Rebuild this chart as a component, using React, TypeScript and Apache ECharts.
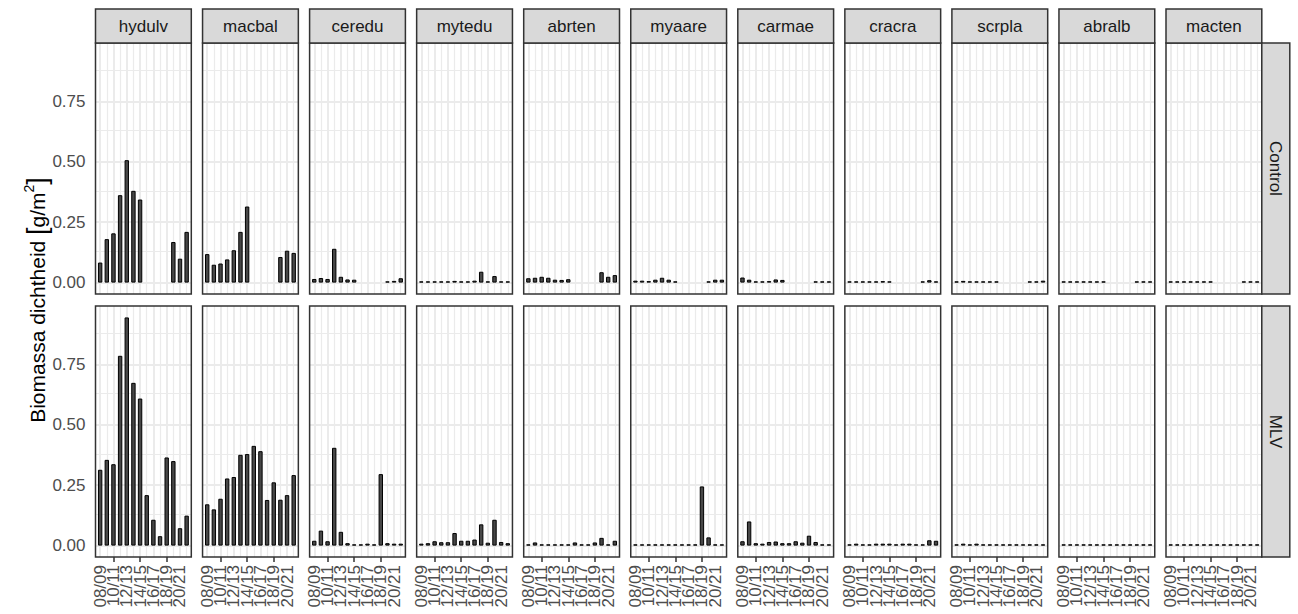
import React, { useEffect, useRef } from "react";
import * as echarts from "echarts";

// ---------- data ----------
const seasons = ["08/09", "09/10", "10/11", "11/12", "12/13", "13/14", "14/15", "15/16", "16/17", "17/18", "18/19", "19/20", "20/21", "21/22"];
const species = ["hydulv", "macbal", "ceredu", "mytedu", "abrten", "myaare", "carmae", "cracra", "scrpla", "abralb", "macten"];
const treatments = ["Control", "MLV"];

const N = null;
// Control
const controlHydulv = [0.083, 0.18, 0.204, 0.362, 0.507, 0.38, 0.344, N, N, N, N, 0.168, 0.099, 0.21];
const controlMacbal = [0.118, 0.074, 0.079, 0.096, 0.134, 0.21, 0.315, N, N, N, N, 0.106, 0.132, 0.123];
const controlCeredu = [0.015, 0.019, 0.015, 0.14, 0.024, 0.013, 0.012, N, N, N, N, 0.005, 0.007, 0.018];
const controlMytedu = [0.004, 0.004, 0.004, 0.004, 0.004, 0.007, 0.004, 0.004, 0.008, 0.045, 0.005, 0.027, 0.004, 0.004];
const controlAbrten = [0.018, 0.02, 0.024, 0.02, 0.012, 0.011, 0.014, N, N, N, N, 0.043, 0.024, 0.031];
const controlMyaare = [0.008, 0.008, 0.006, 0.012, 0.02, 0.012, 0.004, N, N, N, N, 0.004, 0.012, 0.012];
const controlCarmae = [0.021, 0.012, 0.004, 0.004, 0.006, 0.013, 0.011, N, N, N, N, 0.004, 0.004, 0.004];
const controlCracra = [0.004, 0.004, 0.004, 0.004, 0.004, 0.006, 0.004, N, N, N, N, 0.004, 0.01, 0.004];
const controlScrpla = [0.003, 0.007, 0.003, 0.003, 0.003, 0.003, 0.003, N, N, N, N, 0.003, 0.003, 0.008];
const controlAbralb = [0.002, 0.002, 0.002, 0.002, 0.002, 0.002, 0.004, N, N, N, N, 0.002, 0.002, 0.002];
const controlMacten = [0.002, 0.002, 0.002, 0.002, 0.002, 0.002, 0.002, N, N, N, N, 0.002, 0.002, 0.002];
// MLV
const mlvHydulv = [0.314, 0.355, 0.337, 0.786, 0.945, 0.674, 0.609, 0.209, 0.107, 0.039, 0.365, 0.35, 0.072, 0.124];
const mlvMacbal = [0.171, 0.15, 0.194, 0.278, 0.284, 0.376, 0.379, 0.413, 0.391, 0.189, 0.262, 0.19, 0.209, 0.292];
const mlvCeredu = [0.02, 0.062, 0.018, 0.405, 0.057, 0.01, 0.004, 0.004, 0.008, 0.004, 0.296, 0.01, 0.008, 0.008];
const mlvMytedu = [0.008, 0.01, 0.018, 0.014, 0.014, 0.052, 0.02, 0.02, 0.025, 0.088, 0.012, 0.107, 0.015, 0.01];
const mlvAbrten = [0.004, 0.013, 0.003, 0.003, 0.004, 0.004, 0.004, 0.013, 0.004, 0.003, 0.013, 0.032, 0.004, 0.02];
const mlvMyaare = [0.002, 0.002, 0.002, 0.002, 0.002, 0.002, 0.002, 0.002, 0.002, 0.001, 0.245, 0.034, 0.002, 0.002];
const mlvCarmae = [0.018, 0.1, 0.01, 0.008, 0.015, 0.017, 0.01, 0.01, 0.018, 0.012, 0.041, 0.015, 0.004, 0.004];
const mlvCracra = [0.004, 0.008, 0.004, 0.004, 0.008, 0.008, 0.008, 0.005, 0.008, 0.008, 0.005, 0.004, 0.022, 0.02];
const mlvScrpla = [0.003, 0.008, 0.001, 0.008, 0.004, 0.003, 0.002, 0.003, 0.003, 0.004, 0.003, 0.001, 0.003, 0.003];
const mlvAbralb = [0.002, 0.002, 0.002, 0.002, 0.002, 0.002, 0.004, 0.004, 0.002, 0.002, 0.002, 0.001, 0.002, 0.002];
const mlvMacten = [0.002, 0.004, 0.002, 0.001, 0.002, 0.002, 0.002, 0.002, 0.002, 0.002, 0.002, 0.002, 0.002, 0.002];

const controlValues = [controlHydulv, controlMacbal, controlCeredu, controlMytedu, controlAbrten, controlMyaare, controlCarmae, controlCracra, controlScrpla, controlAbralb, controlMacten];
const mlvValues = [mlvHydulv, mlvMacbal, mlvCeredu, mlvMytedu, mlvAbrten, mlvMyaare, mlvCarmae, mlvCracra, mlvScrpla, mlvAbralb, mlvMacten];

// labelled x breaks, split in two interleaved sets so adjacent labels never collide in layout
const xTickIndexA = [0, 4, 8, 12];
const xTickIndexB = [2, 6, 10];
const xMinorIndex = [1, 3, 5, 7, 9, 11, 13];
const yTicks = [0, 0.25, 0.5, 0.75];
const yMinorTicks = [0.125, 0.375, 0.625, 0.875];

// ---------- layout / style ----------
const FONT = "'Liberation Sans', Arial, Helvetica, sans-serif";
const PANEL_LEFT = 95.5;
const PANEL_PITCH = 107.05;
const PANEL_W = 95.8;
const ROW_TOP = [43, 306];
const PANEL_H = 251;
const STRIP_TOP = 9;
const STRIP_H = 34;
const RSTRIP_W = 28;
const GRID_COLOR = "#EBEBEB";
const DARK = "#333333";

function buildOption() {
  const all = [...controlValues, ...mlvValues].flat().filter((v) => v != null) as number[];
  const maxVal = Math.max(...all);
  const expand = maxVal * 0.05;
  const yMin = -expand;
  const yMax = maxVal + expand;
  const xMin = -0.7;
  const xMax = seasons.length - 1 + 0.7;

  const grids: any[] = [];
  const xAxes: any[] = [];
  const yAxes: any[] = [];
  const series: any[] = [];
  const graphics: any[] = [];

  const makeXAxis = (gridIndex: number, show: boolean, ticks: number[]) => ({
    type: "value",
    gridIndex,
    position: "bottom",
    min: xMin,
    max: xMax,
    axisLine: { show: false },
    splitLine: { show: false },
    minorSplitLine: { show: false },
    axisTick: {
      show,
      customValues: ticks,
      length: 5,
      lineStyle: { color: DARK, width: 1.5 },
    },
    axisLabel: {
      show,
      customValues: ticks,
      formatter: (v: number) => seasons[Math.round(v)] ?? "",
      rotate: 90,
      margin: 8,
      fontSize: 17,
      color: "#4D4D4D",
      fontFamily: FONT,
      hideOverlap: false,
      showMinLabel: true,
      showMaxLabel: true,
    },
  });

  treatments.forEach((t, r) => {
    const rows = r === 0 ? controlValues : mlvValues;
    species.forEach((sp, c) => {
      const i = r * species.length + c;
      const left = PANEL_LEFT + c * PANEL_PITCH;
      const top = ROW_TOP[r];
      const isBottom = r === treatments.length - 1;
      const isLeft = c === 0;
      grids.push({
        left,
        top,
        width: PANEL_W,
        height: PANEL_H,
        show: true,
        backgroundColor: "#ffffff",
        borderWidth: 0,
        outerBoundsMode: "none",
        containLabel: false,
      });
      const xi = xAxes.length;
      xAxes.push(makeXAxis(i, isBottom, xTickIndexA));
      if (isBottom) xAxes.push(makeXAxis(i, true, xTickIndexB));
      yAxes.push({
        type: "value",
        gridIndex: i,
        min: yMin,
        max: yMax,
        axisLine: { show: false },
        splitLine: { show: false },
        minorSplitLine: { show: false },
        axisTick: {
          show: isLeft,
          customValues: yTicks,
          length: 5,
          lineStyle: { color: DARK, width: 1.5 },
        },
        axisLabel: {
          show: isLeft,
          customValues: yTicks,
          formatter: (v: number) => v.toFixed(2),
          margin: 10,
          fontSize: 17,
          color: "#4D4D4D",
          fontFamily: FONT,
          hideOverlap: false,
          showMinLabel: true,
          showMaxLabel: true,
        },
      });
      const vals = rows[c];
      const data: any[] = [];
      vals.forEach((v, k) => {
        if (v != null) data.push([k, v]);
      });
      const gridLines: any[] = [];
      [...xTickIndexA, ...xTickIndexB].forEach((k) => gridLines.push({ xAxis: k, lineStyle: { color: GRID_COLOR, width: 2, type: "solid" } }));
      xMinorIndex.forEach((k) => gridLines.push({ xAxis: k, lineStyle: { color: GRID_COLOR, width: 1.2, type: "solid" } }));
      yTicks.forEach((v) => gridLines.push({ yAxis: v, lineStyle: { color: GRID_COLOR, width: 2, type: "solid" } }));
      yMinorTicks.forEach((v) => gridLines.push({ yAxis: v, lineStyle: { color: GRID_COLOR, width: 1.2, type: "solid" } }));
      series.push({
        type: "bar",
        name: `${t}-${sp}`,
        xAxisIndex: xi,
        yAxisIndex: i,
        data,
        barWidth: 4.4,
        barMinHeight: 1.2,
        z: 3,
        itemStyle: { color: "#474747", borderColor: "#000000", borderWidth: 1 },
        emphasis: { disabled: true },
        markLine: {
          silent: true,
          symbol: "none",
          z: 1,
          animation: false,
          label: { show: false },
          emphasis: { disabled: true },
          data: gridLines,
        },
      });
      // panel border
      graphics.push({
        type: "rect",
        z: 50,
        silent: true,
        shape: { x: left, y: top, width: PANEL_W, height: PANEL_H },
        style: { fill: "none", stroke: DARK, lineWidth: 1.5 },
      });
      // top strips
      if (r === 0) {
        graphics.push({
          type: "rect",
          z: 51,
          silent: true,
          shape: { x: left, y: STRIP_TOP, width: PANEL_W, height: STRIP_H },
          style: { fill: "#D9D9D9", stroke: DARK, lineWidth: 1.5 },
        });
        graphics.push({
          type: "text",
          z: 52,
          silent: true,
          x: left + PANEL_W / 2,
          y: STRIP_TOP + STRIP_H / 2,
          style: {
            text: sp,
            fill: "#1A1A1A",
            fontSize: 17,
            fontFamily: FONT,
            align: "center",
            verticalAlign: "middle",
            textAlign: "center",
            textVerticalAlign: "middle",
          },
        });
      }
    });
    // right strips
    const rx = PANEL_LEFT + (species.length - 1) * PANEL_PITCH + PANEL_W;
    graphics.push({
      type: "rect",
      z: 51,
      silent: true,
      shape: { x: rx, y: ROW_TOP[r], width: RSTRIP_W, height: PANEL_H },
      style: { fill: "#D9D9D9", stroke: DARK, lineWidth: 1.5 },
    });
    graphics.push({
      type: "text",
      z: 52,
      silent: true,
      x: rx + RSTRIP_W / 2,
      y: ROW_TOP[r] + PANEL_H / 2,
      rotation: -Math.PI / 2,
      style: {
        text: t,
        fill: "#1A1A1A",
        fontSize: 17,
        fontFamily: FONT,
        align: "center",
        verticalAlign: "middle",
        textAlign: "center",
        textVerticalAlign: "middle",
      },
    });
  });

  // y-axis title
  graphics.push({
    type: "text",
    z: 52,
    silent: true,
    x: 37,
    y: (ROW_TOP[0] + ROW_TOP[1] + PANEL_H) / 2,
    rotation: Math.PI / 2,
    style: {
      text: "{a|Biomassa dichtheid }{b|[}{a|g/m}{s|2}{b|]}",
      fill: "#000000",
      fontSize: 21,
      fontFamily: FONT,
      align: "center",
      verticalAlign: "middle",
      textAlign: "center",
      textVerticalAlign: "middle",
      rich: {
        a: { fontSize: 21, fontFamily: FONT, fill: "#000000", verticalAlign: "middle", lineHeight: 30 },
        b: { fontSize: 27, fontFamily: FONT, fill: "#000000", verticalAlign: "middle", lineHeight: 30 },
        s: { fontSize: 14, fontFamily: FONT, fill: "#000000", verticalAlign: "top", lineHeight: 14 },
      },
    },
  });

  return {
    animation: false,
    backgroundColor: "#ffffff",
    textStyle: { fontFamily: FONT },
    grid: grids,
    xAxis: xAxes,
    yAxis: yAxes,
    series,
    graphic: { elements: graphics },
  };
}

export default function App() {
  const ref = useRef<HTMLDivElement>(null);
  useEffect(() => {
    if (!ref.current) return;
    const chart = echarts.init(ref.current, undefined, { renderer: "svg" });
    chart.setOption(buildOption() as any);
    return () => chart.dispose();
  }, []);
  return (
    <div
      ref={ref}
      style={{ position: "fixed", left: 0, top: 0, width: 1298, height: 614, background: "#fff" }}
    />
  );
}
